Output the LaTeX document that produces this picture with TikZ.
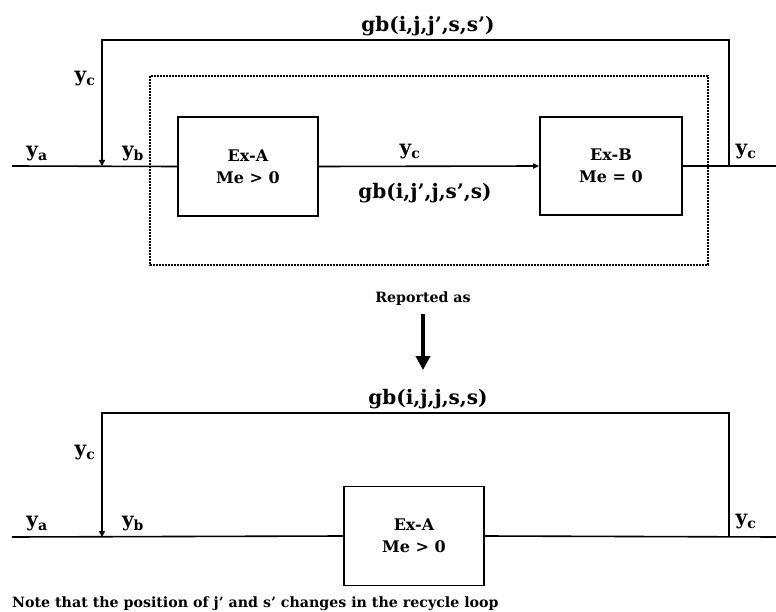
\documentclass[tikz,border=0pt]{standalone}
\usepackage{fontspec}
\setmainfont{DejaVu Serif}
\usetikzlibrary{arrows.meta,positioning}

\begin{document}
\begin{tikzpicture}[x=1pt,y=-1pt,
      unit/.style={draw,line width=1.6pt,minimum width=140pt,minimum height=99pt,
        align=center,font=\bfseries\fontsize{16}{22}\selectfont,inner sep=0pt},
      flow/.style={line width=1.6pt},
      feed/.style={line width=1.6pt,-{Triangle[length=6pt,width=6pt]}},
      envelope/.style={line width=1.1pt,dash pattern=on 2pt off 1pt},
      stream/.style={font=\bfseries\fontsize{20}{22}\selectfont,inner sep=1pt},
      key/.style={font=\bfseries\fontsize{20}{22}\selectfont,inner sep=1pt},
      note/.style={font=\bfseries\fontsize{14.2}{16}\selectfont,inner sep=0pt}
    ]
      \useasboundingbox (0,0) rectangle (776,612);
      % split system, one envelope round both exchangers
      \node[unit] (exA) at (248,166.5) {Ex-A\\Me > 0};
      \node[unit,minimum width=142pt,minimum height=98pt] (exB) at (611,166) {Ex-B\\Me = 0};
      \coordinate (in1) at (12,166);
      \coordinate (mix1) at (102,166);
      \coordinate (split1) at (729,166);
      \coordinate (out1) at (776,166);
      \coordinate (loopL1) at (102,40);
      \coordinate (loopR1) at (729,40);
      \draw[envelope] (150,76) rectangle (708,265);
      \draw[flow] (in1) -- (exA.west);
      \draw[flow,-{Triangle[length=6pt,width=5pt]}] (exA.east) -- (exB.west);
      \draw[flow] (exB.east) -- (out1);
      \draw[feed] (split1) -- (loopR1) -- (loopL1) -- (mix1);
      \node[stream] (ya1) at (37,154) {y\textsubscript{a}};
      \node[stream] (yb1) at (133,154) {y\textsubscript{b}};
      \node[stream] (yc1) at (85,79) {y\textsubscript{c}};
      \node[stream] (yc2) at (410,152) {y\textsubscript{c}};
      \node[stream] (yc3) at (746,152) {y\textsubscript{c}};
      \node[key] (gbTop) at (428,26) {gb(i,j,j’,s,s’)};
      \node[key] (gbMid) at (425,193) {gb(i,j’,j,s’,s)};
      % reported form
      \node[note] (rep) at (423,299) {Reported as};
      \coordinate (repEnd) at (423,370);
      \draw[line width=3.5pt,-{Triangle[length=14pt,width=14pt]}] (rep.south) ++(0,8) -- (repEnd);
      \node[unit] (exA2) at (414,536) {Ex-A\\Me > 0};
      \coordinate (in2) at (12,537);
      \coordinate (mix2) at (102,537);
      \coordinate (split2) at (729,537);
      \coordinate (out2) at (776,537);
      \coordinate (loopL2) at (102,413);
      \coordinate (loopR2) at (729,413);
      \draw[flow] (in2) -- (exA2.west);
      \draw[flow] (exA2.east) -- (out2);
      \draw[feed] (split2) -- (loopR2) -- (loopL2) -- (mix2);
      \node[stream] (ya2) at (37,524) {y\textsubscript{a}};
      \node[stream] (yb2) at (133,524) {y\textsubscript{b}};
      \node[stream] (yc4) at (85,453) {y\textsubscript{c}};
      \node[stream] (yc5) at (746,522) {y\textsubscript{c}};
      \node[key] (gbLow) at (428,399) {gb(i,j,j,s,s)};
      \node[note,anchor=west] (remark) at (12,604) {Note that the position of j’ and s’ changes in the recycle loop};
    \end{tikzpicture}
\end{document}
